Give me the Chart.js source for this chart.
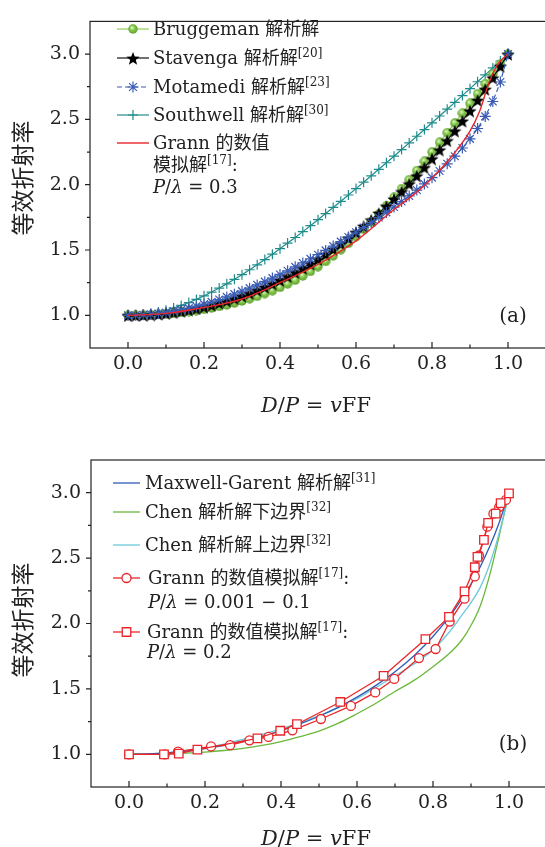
<!DOCTYPE html>
<html>
<head>
<meta charset="utf-8">
<script src="https://cdn.jsdelivr.net/npm/chart.js@4.4.1/dist/chart.umd.min.js"></script>
<style>
  html, body { margin: 0; padding: 0; background: #fff; width: 545px; height: 847px; overflow: hidden; }
  canvas { position: absolute; left: 0; }
  #chartA { top: 0; }
  #chartB { top: 430px; }
</style>
</head>
<body>
<canvas id="chartA" width="560" height="430"></canvas>
<canvas id="chartB" width="560" height="417"></canvas>
<script>
// ---- panel (a): D/P = vFF vs effective index ----
const vffA = [0, 0.02, 0.04, 0.06, 0.08, 0.1, 0.12, 0.14, 0.16, 0.18, 0.2, 0.22, 0.24, 0.26, 0.28, 0.3, 0.32, 0.34, 0.36, 0.38, 0.4, 0.42, 0.44, 0.46, 0.48, 0.5, 0.52, 0.54, 0.56, 0.58, 0.6, 0.62, 0.64, 0.66, 0.68, 0.7, 0.72, 0.74, 0.76, 0.78, 0.8, 0.82, 0.84, 0.86, 0.88, 0.9, 0.92, 0.94, 0.96, 0.98, 1.0];
const bruggeman = [1.000, 1.000, 1.002, 1.004, 1.007, 1.011, 1.016, 1.022, 1.029, 1.037, 1.046, 1.056, 1.068, 1.080, 1.094, 1.110, 1.127, 1.146, 1.167, 1.189, 1.214, 1.241, 1.270, 1.302, 1.336, 1.373, 1.413, 1.456, 1.502, 1.551, 1.603, 1.658, 1.716, 1.776, 1.839, 1.903, 1.970, 2.038, 2.108, 2.179, 2.251, 2.324, 2.398, 2.472, 2.547, 2.622, 2.697, 2.773, 2.848, 2.924, 3.000];
const stavenga = [1.000, 1.001, 1.003, 1.006, 1.010, 1.016, 1.023, 1.032, 1.042, 1.053, 1.066, 1.079, 1.095, 1.112, 1.130, 1.149, 1.170, 1.193, 1.217, 1.243, 1.270, 1.299, 1.330, 1.362, 1.396, 1.431, 1.469, 1.508, 1.549, 1.592, 1.637, 1.684, 1.732, 1.783, 1.836, 1.891, 1.948, 2.008, 2.069, 2.133, 2.200, 2.268, 2.339, 2.413, 2.489, 2.567, 2.648, 2.732, 2.819, 2.908, 3.000];
const motamedi = [1.000, 1.001, 1.004, 1.008, 1.014, 1.022, 1.032, 1.043, 1.055, 1.070, 1.086, 1.103, 1.121, 1.141, 1.162, 1.185, 1.208, 1.233, 1.258, 1.285, 1.313, 1.341, 1.371, 1.401, 1.432, 1.464, 1.497, 1.530, 1.564, 1.600, 1.636, 1.672, 1.710, 1.749, 1.788, 1.829, 1.871, 1.914, 1.959, 2.006, 2.054, 2.105, 2.160, 2.218, 2.281, 2.351, 2.430, 2.523, 2.637, 2.786, 3.000];
const southwell = [1.000, 1.002, 1.006, 1.014, 1.025, 1.039, 1.056, 1.076, 1.098, 1.122, 1.149, 1.178, 1.209, 1.241, 1.276, 1.311, 1.349, 1.387, 1.427, 1.468, 1.510, 1.553, 1.596, 1.641, 1.686, 1.732, 1.779, 1.826, 1.873, 1.921, 1.970, 2.019, 2.068, 2.118, 2.168, 2.218, 2.269, 2.320, 2.371, 2.422, 2.474, 2.526, 2.578, 2.630, 2.682, 2.735, 2.788, 2.841, 2.894, 2.947, 3.000];
const grannAX = [0, 0.1, 0.2, 0.3, 0.4, 0.5, 0.6, 0.7, 0.75, 0.8, 0.85, 0.9, 0.925, 0.95, 0.975, 1.0];
const grannA = [1.0, 1.015, 1.06, 1.125, 1.25, 1.39, 1.57, 1.81, 1.92, 2.05, 2.21, 2.41, 2.56, 2.78, 2.93, 3.0];

// ---- panel (b) ----
const vffB = [0, 0.05, 0.1, 0.15, 0.2, 0.25, 0.3, 0.35, 0.4, 0.45, 0.5, 0.55, 0.6, 0.65, 0.7, 0.75, 0.8, 0.85, 0.875, 0.9, 0.925, 0.95, 0.975, 1.0];
const maxwellGarnett = [1.000, 1.003, 1.011, 1.025, 1.044, 1.069, 1.100, 1.137, 1.181, 1.232, 1.291, 1.359, 1.437, 1.527, 1.631, 1.754, 1.901, 2.079, 2.184, 2.302, 2.438, 2.594, 2.778, 3.000];
const chenLower = [1.000, 1.001, 1.004, 1.009, 1.017, 1.029, 1.046, 1.068, 1.097, 1.135, 1.178, 1.236, 1.310, 1.390, 1.480, 1.565, 1.670, 1.790, 1.870, 1.985, 2.140, 2.380, 2.680, 3.000];
const chenUpper = [1.000, 1.003, 1.012, 1.028, 1.050, 1.078, 1.115, 1.153, 1.195, 1.240, 1.295, 1.355, 1.425, 1.510, 1.600, 1.690, 1.800, 1.960, 2.060, 2.160, 2.280, 2.460, 2.700, 3.000];
const grannCircX = [0, 0.094, 0.129, 0.216, 0.266, 0.317, 0.367, 0.43, 0.505, 0.584, 0.648, 0.698, 0.763, 0.807, 0.844, 0.883, 0.91, 0.921, 0.943, 0.959, 0.974, 0.992];
const grannCirc = [1.0, 1.0, 1.02, 1.06, 1.07, 1.107, 1.133, 1.183, 1.27, 1.37, 1.473, 1.576, 1.736, 1.805, 2.015, 2.19, 2.36, 2.52, 2.74, 2.84, 2.89, 2.945];
const grannSqX = [0, 0.092, 0.131, 0.18, 0.338, 0.398, 0.442, 0.556, 0.67, 0.78, 0.842, 0.883, 0.91, 0.917, 0.934, 0.945, 0.965, 0.978, 1.0];
const grannSq = [1.0, 1.0, 1.005, 1.036, 1.122, 1.18, 1.23, 1.40, 1.60, 1.88, 2.05, 2.245, 2.43, 2.51, 2.64, 2.77, 2.84, 2.92, 2.995];

// ticks
const xMajor = [0, 0.2, 0.4, 0.6, 0.8, 1.0];
const xMinor = [0.1, 0.3, 0.5, 0.7, 0.9];
const yMajor = [1.0, 1.5, 2.0, 2.5, 3.0];
const yMinor = [1.25, 1.75, 2.25, 2.75];

const SERIF = '"DejaVu Serif", "Noto Sans CJK SC", serif';
const INK = '#222';

const pts = (xs, ys) => xs.map((v, i) => ({ x: v, y: ys[i] }));

function ballImage(d) {
  const c = document.createElement('canvas');
  c.width = c.height = d;
  const g = c.getContext('2d');
  const grad = g.createRadialGradient(d * 0.38, d * 0.34, 0.3, d / 2, d / 2, d / 2);
  grad.addColorStop(0, '#e2f8c4');
  grad.addColorStop(0.45, '#86c94c');
  grad.addColorStop(1, '#5a9b2c');
  g.fillStyle = grad;
  g.beginPath();
  g.arc(d / 2, d / 2, d / 2 - 0.3, 0, Math.PI * 2);
  g.fill();
  return c;
}

function starImage(d, color) {
  const c = document.createElement('canvas');
  c.width = c.height = d;
  const g = c.getContext('2d');
  const R = d / 2, r = R * 0.42;
  g.beginPath();
  for (let i = 0; i < 10; i++) {
    const a = -Math.PI / 2 + i * Math.PI / 5;
    const rr = i % 2 ? r : R;
    g.lineTo(R + rr * Math.cos(a), R + 1 + rr * Math.sin(a));
  }
  g.closePath();
  g.fillStyle = color;
  g.fill();
  return c;
}

function fontFor(s, size) {
  const sz = s.sup ? Math.round(size * 0.66) : size;
  return (s.it ? 'italic ' : '') + sz + 'px ' + SERIF;
}

function drawRich(ctx, segs, x, y, size, align) {
  let w = 0;
  segs.forEach(s => { ctx.font = fontFor(s, size); w += ctx.measureText(s.t).width; });
  let cx = align === 'center' ? x - w / 2 : x;
  segs.forEach(s => {
    ctx.font = fontFor(s, size);
    ctx.fillText(s.t, cx, s.sup ? y - size * 0.4 : y);
    cx += ctx.measureText(s.t).width;
  });
}

function drawMarker(ctx, ds, x, y) {
  const style = ds.pointStyle;
  if (style instanceof HTMLCanvasElement) {
    ctx.drawImage(style, x - style.width / 2, y - style.height / 2);
    return;
  }
  ctx.strokeStyle = ds.pointBorderColor || ds.borderColor;
  ctx.fillStyle = ds.pointBackgroundColor || '#fff';
  ctx.lineWidth = ds.pointBorderWidth || 1;
  Chart.helpers.drawPoint(ctx, { pointStyle: style, radius: ds.pointRadius, borderWidth: ds.pointBorderWidth || 1, rotation: 0 }, x, y);
}

const inLegend = {
  id: 'inLegend',
  afterDatasetsDraw(chart, args, opts) {
    const ctx = chart.ctx;
    ctx.save();
    opts.rows.forEach(row => {
      const ds = chart.data.datasets[row.ds];
      const y0 = row.ys[0];
      ctx.strokeStyle = ds.borderColor;
      ctx.lineWidth = ds.borderWidth;
      ctx.setLineDash(ds.borderDash || []);
      ctx.beginPath();
      ctx.moveTo(opts.x0, y0);
      ctx.lineTo(opts.x1, y0);
      ctx.stroke();
      ctx.setLineDash([]);
      if (ds.pointRadius > 0) drawMarker(ctx, ds, (opts.x0 + opts.x1) / 2, y0);
      ctx.fillStyle = INK;
      ctx.textAlign = 'left';
      ctx.textBaseline = 'alphabetic';
      row.lines.forEach((segs, i) => drawRich(ctx, segs, row.tx || opts.tx, row.ys[i] + 6, opts.size));
    });
    ctx.restore();
  }
};

const frame = {
  id: 'frame',
  afterDraw(chart, args, opts) {
    const { ctx, chartArea: a, scales: { x, y } } = chart;
    ctx.save();
    ctx.strokeStyle = INK;
    ctx.lineWidth = 1.2;
    ctx.strokeRect(a.left, a.top, a.right - a.left, a.bottom - a.top);
    ctx.beginPath();
    xMajor.forEach(v => { const p = x.getPixelForValue(v); ctx.moveTo(p, a.bottom); ctx.lineTo(p, a.bottom - 6); });
    xMinor.forEach(v => { const p = x.getPixelForValue(v); ctx.moveTo(p, a.bottom); ctx.lineTo(p, a.bottom - 3.5); });
    yMajor.forEach(v => { const p = y.getPixelForValue(v); ctx.moveTo(a.left, p); ctx.lineTo(a.left - 5, p); });
    yMinor.forEach(v => { const p = y.getPixelForValue(v); ctx.moveTo(a.left, p); ctx.lineTo(a.left - 3, p); });
    ctx.stroke();

    ctx.fillStyle = INK;
    ctx.textBaseline = 'alphabetic';
    ctx.textAlign = 'left';
    drawRich(ctx, [{ t: 'D', it: true }, { t: '/' }, { t: 'P', it: true }, { t: ' = ' }, { t: 'v', it: true }, { t: 'FF' }], 316, opts.xTitleY, 21, 'center');
    ctx.font = '20px ' + SERIF;
    ctx.textAlign = 'center';
    ctx.fillText(opts.panel, 513, opts.panelY);

    ctx.translate(22, opts.yTitleY);
    ctx.rotate(-Math.PI / 2);
    ctx.font = '23px "Noto Sans CJK SC", sans-serif';
    ctx.textBaseline = 'middle';
    ctx.fillText('等效折射率', 0, 0);
    ctx.restore();
  }
};

function axes(yWidth, xHeight) {
  return {
    x: {
      type: 'linear', min: -0.1, max: 1.1,
      grid: { display: false, drawTicks: false }, border: { display: false },
      afterBuildTicks: s => { s.ticks = xMajor.map(v => ({ value: v })); },
      afterFit: s => { s.height = xHeight; },
      ticks: { autoSkip: false, maxRotation: 0, padding: 5, color: INK, font: { family: SERIF, size: 19 }, callback: v => v.toFixed(1) }
    },
    y: {
      type: 'linear', min: 0.75, max: 3.25,
      grid: { display: false, drawTicks: false }, border: { display: false },
      afterBuildTicks: s => { s.ticks = yMajor.map(v => ({ value: v })); },
      afterFit: s => { s.width = yWidth; },
      ticks: { autoSkip: false, padding: 10, color: INK, font: { family: SERIF, size: 19 }, callback: v => v.toFixed(1) }
    }
  };
}

const ball = ballImage(10);
const star = starImage(14, '#000');

new Chart(document.getElementById('chartA'), {
  type: 'line',
  data: {
    datasets: [
      { data: pts(grannAX, grannA), borderColor: '#e8262a', borderWidth: 1.4, pointRadius: 0, cubicInterpolationMode: 'monotone' },
      { data: pts(vffA, motamedi), borderColor: '#3a5cb4', borderWidth: 1.2, borderDash: [5, 3], pointStyle: 'star', pointRadius: 5.5, pointBorderColor: '#3a5cb4', pointBorderWidth: 1.2 },
      { data: pts(vffA, stavenga), borderColor: '#111', borderWidth: 1.2, pointStyle: star, pointRadius: 7 },
      { data: pts(vffA, bruggeman), borderColor: '#8ccf55', borderWidth: 1.2, pointStyle: ball, pointRadius: 5 },
      { data: pts(vffA, southwell), borderColor: '#1f8c8c', borderWidth: 1.2, pointStyle: 'cross', pointRadius: 5, pointBorderColor: '#1f8c8c', pointBorderWidth: 1.2 }
    ]
  },
  options: {
    responsive: false, animation: false, events: [],
    layout: { padding: { left: 0, top: 12, right: 14, bottom: 0 } },
    scales: axes(90, 82),
    plugins: {
      legend: { display: false }, tooltip: { enabled: false },
      frame: { panel: '(a)', panelY: 322, xTitleY: 412, yTitleY: 178 },
      inLegend: {
        x0: 117, x1: 149, tx: 153, size: 18,
        rows: [
          { ds: 3, ys: [29], lines: [[{ t: 'Bruggeman 解析解' }]] },
          { ds: 2, ys: [58], lines: [[{ t: 'Stavenga 解析解' }, { t: '[20]', sup: true }]] },
          { ds: 1, ys: [87], lines: [[{ t: 'Motamedi 解析解' }, { t: '[23]', sup: true }]] },
          { ds: 4, ys: [115], lines: [[{ t: 'Southwell 解析解' }, { t: '[30]', sup: true }]] },
          { ds: 0, ys: [143, 165, 187], lines: [
            [{ t: 'Grann 的数值' }],
            [{ t: '模拟解' }, { t: '[17]', sup: true }, { t: ':' }],
            [{ t: 'P', it: true }, { t: '/' }, { t: 'λ', it: true }, { t: ' = 0.3' }]
          ] }
        ]
      }
    }
  },
  plugins: [frame, inLegend]
});

new Chart(document.getElementById('chartB'), {
  type: 'line',
  data: {
    datasets: [
      { data: pts(grannSqX, grannSq), borderColor: '#e8262a', borderWidth: 1.3, pointStyle: 'rect', pointRadius: 6, pointBorderColor: '#e8262a', pointBackgroundColor: '#fff', pointBorderWidth: 1.3 },
      { data: pts(grannCircX, grannCirc), borderColor: '#e8262a', borderWidth: 1.3, pointStyle: 'circle', pointRadius: 4.5, pointBorderColor: '#e8262a', pointBackgroundColor: '#fff', pointBorderWidth: 1.3 },
      { data: pts(vffB, maxwellGarnett), borderColor: '#2f5cb8', borderWidth: 1.3, pointRadius: 0, cubicInterpolationMode: 'monotone' },
      { data: pts(vffB, chenUpper), borderColor: '#6cc8dc', borderWidth: 1.3, pointRadius: 0, cubicInterpolationMode: 'monotone' },
      { data: pts(vffB, chenLower), borderColor: '#6ab83a', borderWidth: 1.3, pointRadius: 0, cubicInterpolationMode: 'monotone' }
    ]
  },
  options: {
    responsive: false, animation: false, events: [],
    layout: { padding: { left: 0, top: 30, right: 13, bottom: 0 } },
    scales: axes(91, 60),
    plugins: {
      legend: { display: false }, tooltip: { enabled: false },
      frame: { panel: '(b)', panelY: 320, xTitleY: 415, yTitleY: 190 },
      inLegend: {
        x0: 113, x1: 140, tx: 145, size: 18,
        rows: [
          { ds: 2, ys: [53], lines: [[{ t: 'Maxwell-Garent 解析解' }, { t: '[31]', sup: true }]] },
          { ds: 4, ys: [82], lines: [[{ t: 'Chen 解析解下边界' }, { t: '[32]', sup: true }]] },
          { ds: 3, ys: [115], lines: [[{ t: 'Chen 解析解上边界' }, { t: '[32]', sup: true }]] },
          { ds: 1, ys: [148, 172], tx: 148, lines: [
            [{ t: 'Grann 的数值模拟解' }, { t: '[17]', sup: true }, { t: ':' }],
            [{ t: 'P', it: true }, { t: '/' }, { t: 'λ', it: true }, { t: ' = 0.001 − 0.1' }]
          ] },
          { ds: 0, ys: [202, 222], tx: 147, lines: [
            [{ t: 'Grann 的数值模拟解' }, { t: '[17]', sup: true }, { t: ':' }],
            [{ t: 'P', it: true }, { t: '/' }, { t: 'λ', it: true }, { t: ' = 0.2' }]
          ] }
        ]
      }
    }
  },
  plugins: [frame, inLegend]
});
</script>
</body>
</html>
